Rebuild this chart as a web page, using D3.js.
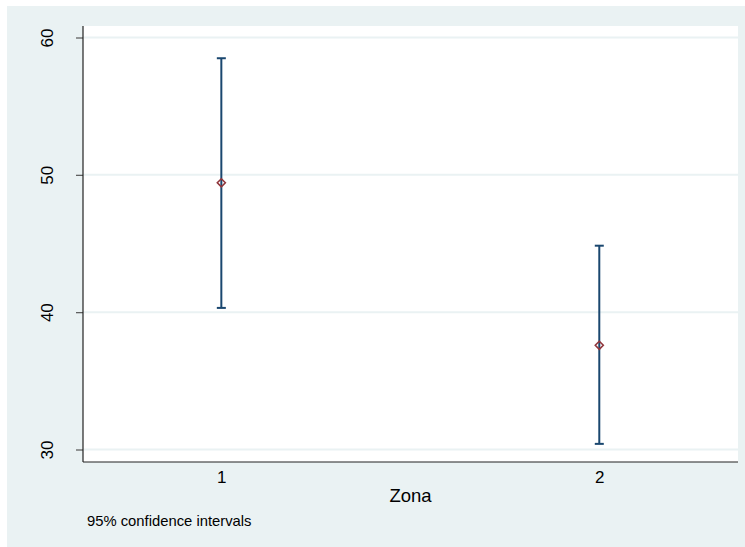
<!DOCTYPE html>
<html>
<head>
<meta charset="utf-8">
<script src="https://cdn.jsdelivr.net/npm/d3@7"></script>
<style>
  html, body { margin: 0; padding: 0; background: #ffffff; }
  svg { display: block; }
  text { font-family: "Liberation Sans", Arial, sans-serif; }
</style>
</head>
<body>
<svg id="chart" width="745" height="547"></svg>
<script>
// Mean and 95% confidence interval by zone
const zones = [1, 2];
const means = [49.42, 37.59];
const lower = [40.31, 30.41];
const upper = [58.49, 44.84];
const yTicks = [30, 40, 50, 60];
const xTickLabels = ["1", "2"];
const xTitle = "Zona";
const note = "95% confidence intervals";

const W = 745, H = 547;
const plot = { left: 83, right: 738, top: 26, bottom: 462 };

const svg = d3.select("#chart");

// Outer graph region
svg.append("rect")
  .attr("x", 7).attr("y", 6)
  .attr("width", W - 7).attr("height", H - 6)
  .attr("fill", "#eaf2f3");

// Plot region
svg.append("rect")
  .attr("x", plot.left).attr("y", plot.top)
  .attr("width", plot.right - plot.left).attr("height", plot.bottom - plot.top)
  .attr("fill", "#ffffff");

const x = d3.scaleLinear().domain([0.634, 2.367]).range([plot.left, plot.right]);
const y = d3.scaleLinear().domain([30, 60]).range([449.5, 37.5]);

// Horizontal grid lines
svg.append("g")
  .selectAll("line")
  .data(yTicks)
  .join("line")
  .attr("x1", plot.left).attr("x2", plot.right)
  .attr("y1", d => y(d)).attr("y2", d => y(d))
  .attr("stroke", "#eaf2f3")
  .attr("stroke-width", 2);

// Y axis with rotated tick labels
const yAxis = svg.append("g")
  .attr("transform", `translate(${plot.left},0)`)
  .call(d3.axisLeft(y).tickValues(yTicks).tickSize(7).tickPadding(0).tickFormat(d3.format("d")));
yAxis.select(".domain").remove();
yAxis.selectAll(".tick line").attr("stroke", "#555555").attr("stroke-width", 1.2);
yAxis.selectAll(".tick text")
  .attr("transform", "rotate(-90)")
  .attr("x", 0).attr("y", -30.5)
  .attr("dy", null)
  .attr("text-anchor", "middle")
  .attr("font-size", 17)
  .attr("fill", "#000000");
svg.append("line")
  .attr("x1", plot.left).attr("x2", plot.left)
  .attr("y1", plot.top).attr("y2", plot.bottom)
  .attr("stroke", "#222222").attr("stroke-width", 1.2);

// X axis
const xAxis = svg.append("g")
  .attr("transform", `translate(0,${plot.bottom})`)
  .call(d3.axisBottom(x).tickValues(zones).tickSize(0).tickPadding(0)
    .tickFormat((d, i) => xTickLabels[i]));
xAxis.select(".domain").remove();
xAxis.selectAll(".tick text")
  .attr("y", 21.3).attr("dy", null)
  .attr("font-size", 17).attr("fill", "#000000");
svg.append("line")
  .attr("x1", plot.left).attr("x2", plot.right)
  .attr("y1", plot.bottom).attr("y2", plot.bottom)
  .attr("stroke", "#222222").attr("stroke-width", 1.2);

svg.append("text")
  .attr("x", 410.5).attr("y", 501.7)
  .attr("text-anchor", "middle")
  .attr("font-size", 18.5)
  .text(xTitle);

svg.append("text")
  .attr("x", 87).attr("y", 525.7)
  .attr("font-size", 14.8)
  .text(note);

// Confidence interval bars with caps
const data = zones.map((z, i) => ({ z, m: means[i], lo: lower[i], hi: upper[i] }));
const bars = svg.append("g").attr("stroke", "#1a476f").attr("stroke-width", 2).attr("fill", "none");
bars.selectAll("line.ci")
  .data(data).join("line").attr("class", "ci")
  .attr("x1", d => x(d.z)).attr("x2", d => x(d.z))
  .attr("y1", d => y(d.lo)).attr("y2", d => y(d.hi));
bars.selectAll("line.capHi")
  .data(data).join("line").attr("class", "capHi")
  .attr("x1", d => x(d.z) - 4.5).attr("x2", d => x(d.z) + 4.5)
  .attr("y1", d => y(d.hi)).attr("y2", d => y(d.hi));
bars.selectAll("line.capLo")
  .data(data).join("line").attr("class", "capLo")
  .attr("x1", d => x(d.z) - 4.5).attr("x2", d => x(d.z) + 4.5)
  .attr("y1", d => y(d.lo)).attr("y2", d => y(d.lo));

// Mean markers: hollow diamonds
svg.append("g")
  .selectAll("path")
  .data(data).join("path")
  .attr("d", d => {
    const cx = x(d.z), cy = y(d.m), r = 4;
    return `M${cx},${cy - r}L${cx + r},${cy}L${cx},${cy + r}L${cx - r},${cy}Z`;
  })
  .attr("fill", "none")
  .attr("stroke", "#90353b")
  .attr("stroke-width", 1.6);
</script>
</body>
</html>
